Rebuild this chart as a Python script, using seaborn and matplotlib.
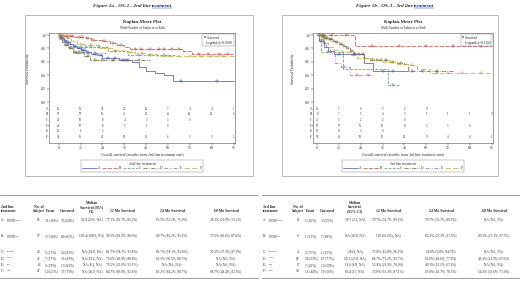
import numpy as np
import pandas as pd
import seaborn as sns
import matplotlib
matplotlib.use("Agg")
import matplotlib.pyplot as plt
from matplotlib.lines import Line2D
from matplotlib.patches import Rectangle

# ---------------- data ----------------
groups = ["A", "B", "C", "D", "E", "F"]
at_risk_times = [0, 12, 24, 36, 48, 60, 72, 84, 96]

# Figure 1a - 2nd line: step curves (time, survival) and censor times
os2_times = {
    "A": [0, 1, 2, 3, 4, 6, 8, 10, 12, 15, 18, 21, 24, 28, 33, 40, 44, 48, 53, 58, 63, 96],
    "B": [0, 3, 6, 9, 12, 15, 18, 21, 24, 28, 32, 36, 39, 68, 73, 96],
    "C": [0, 1, 3, 5, 27, 38, 64],
    "D": [0, 1, 2, 3, 5, 8, 14, 17, 50],
    "E": [0, 1, 3, 8, 26],
    "F": [0, 2, 4, 7, 10, 14, 22, 30, 36, 42, 48, 54, 96],
}
os2_surv = {
    "A": [1, .98, .95, .92, .89, .86, .83, .80, .77, .75, .72, .70, .66, .65, .63, .60, .52, .47, .44, .40, .32, .32],
    "B": [1, .99, .98, .97, .965, .95, .93, .92, .905, .88, .85, .82, .79, .76, .71, .71],
    "C": [1, .96, .89, .82, .76, .70, .70],
    "D": [1, .95, .90, .85, .80, .75, .69, .625, .625],
    "E": [1, .94, .87, .735, .735],
    "F": [1, .98, .95, .91, .87, .85, .81, .78, .75, .73, .71, .69, .69],
}
os2_cens = {
    "A": [1, 2, 3, 4, 5, 9, 11, 13, 14, 16, 20, 23, 27, 31, 35, 37, 38, 67, 87],
    "B": [1, 2, 4, 5, 7, 8, 11, 13, 16, 19, 25, 30, 34, 42, 45, 50, 55, 58, 62, 66, 77, 82, 88, 93],
    "C": [2, 4, 7, 9, 12, 15, 18, 22, 31, 44, 50, 58],
    "D": [1, 4, 6, 9, 11, 16, 20, 24, 30, 36, 44],
    "E": [2, 5, 10, 14, 20],
    "F": [1, 3, 5, 12, 18, 26, 40, 46, 60, 66, 72, 78, 84, 90],
}
os2_risk = {
    "A": [86, 55, 31, 22, 12, 7, 4, 4, 1],
    "B": [97, 78, 56, 41, 32, 26, 14, 12, 6],
    "C": [29, 19, 8, 4, 3, 3, 0],
    "D": [42, 17, 8, 5, 1, 0],
    "E": [16, 6, 2],
    "F": [47, 36, 23, 19, 11, 6, 3, 3, 1],
}

# Figure 1b - 3rd line
os3_times = {
    "A": [0, 1, 4, 6, 9, 26, 31, 50],
    "B": [0, 21, 96],
    "C": [0, 2, 14, 39, 45],
    "D": [0, 2, 4, 6, 8, 10, 12, 14, 16, 18, 20, 26, 29, 40, 44, 48, 50, 75],
    "E": [0, 1, 3, 5, 7, 10, 13, 18, 31],
    "F": [0, 2, 4, 6, 9, 12, 18, 22, 30, 36, 44, 50, 55, 62, 96],
}
os3_surv = {
    "A": [1, .91, .82, .76, .71, .59, .47, .47],
    "B": [1, .833, .833],
    "C": [1, .75, .50, .25, .25],
    "D": [1, .98, .96, .94, .91, .89, .87, .84, .80, .76, .72, .66, .63, .60, .58, .57, .47, .47],
    "E": [1, .94, .88, .82, .71, .59, .53, .40, .40],
    "F": [1, .94, .88, .82, .77, .74, .70, .66, .63, .60, .57, .55, .50, .44, .44],
}
os3_cens = {
    "A": [2, 12, 20, 36, 42],
    "B": [3, 8, 16, 30, 45, 60, 75, 90],
    "C": [6, 42],
    "D": [1, 1.5, 2.5, 3, 3.5, 5, 5.5, 7, 7.5, 9, 11, 13, 15, 17, 19, 21, 23, 25, 31, 33, 35, 38, 42, 46, 52, 58, 66],
    "E": [4, 15, 22, 28],
    "F": [3, 14, 26, 40, 52, 66, 72, 80, 90],
}
os3_risk = {
    "A": [11, 7, 6, 3, 2, 0],
    "B": [8, 7, 5, 4, 3, 1, 1, 1, 0],
    "C": [4, 3, 2, 2, 0],
    "D": [87, 57, 35, 16, 8, 3, 3, 0],
    "E": [17, 8, 3, 0],
    "F": [34, 26, 19, 15, 12, 9, 4, 4, 1],
}

# tables
tab_cols = ["No. of\nSubject", "Event", "Censored", "Median\nSurvival (95%\nCI)",
            "12 Mo Survival", "24 Mo Survival", "60 Mo Survival"]
tab2_labels = [("A: ", "platinum\nsalvage without\ntransplant"), ("B: ", "platinum\nsalvage with\ntransplant"),
               ("C: ", "R-lenalid"), ("D: ", "CAR-T"), ("E: ", "Pola"), ("F: ", "Other")]
tab2_rows = [
    ["86", "31 (36%)", "55 (64%)", "50.4 (29.6, NA)", "77.1% (65.7%, 85.2%)", "65.5% (52.2%, 75.9%)", "38.1% (20.9%, 55.2%)"],
    ["97", "17 (18%)", "80 (82%)", "110.4 (108.9, NA)", "96.5% (89.5%, 98.9%)", "90.7% (81.2%, 95.5%)", "79.5% (66.6%, 87.6%)"],
    ["29", "5 (17%)", "24 (83%)", "NA (28.8, NA)", "81.7% (58.1%, 92.8%)", "81.7% (58.1%, 92.8%)", "70.1% (37.3%, 87.9%)"],
    ["42", "7 (17%)", "35 (83%)", "NA (10.2, NA)", "75.0% (49.9%, 88.8%)", "62.5% (36.5%, 80.7%)", "NA (NA, NA)"],
    ["16", "3 (19%)", "13 (81%)", "NA (8.2, NA)", "73.5% (35.9%, 91.1%)", "NA (NA, NA)", "NA (NA, NA)"],
    ["47", "10 (21%)", "37 (79%)", "NA (40.9, NA)", "84.7% (69.0%, 92.9%)", "81.2% (64.2%, 90.7%)", "68.7% (48.4%, 82.5%)"],
]
tab3_cols = ["No. of\nSubject", "Event", "Censored", "Median\nSurvival\n(95% CI)",
             "12 Mo Survival", "24 Mo Survival", "60 Mo Survival"]
tab3_rows = [
    ["11", "5 (45%)", "6 (55%)", "30.7 (3.3, NA)", "70.7% (33.7%, 89.5%)", "70.7% (33.7%, 89.5%)", "NA (NA, NA)"],
    ["8", "1 (13%)", "7 (88%)", "NA (20.8, NA)", "100.0% (NA, NA)", "83.3% (27.3%, 97.5%)", "83.3% (27.3%, 97.5%)"],
    ["4", "3 (75%)", "1 (25%)", "28 (8, NA)", "75.0% (12.8%, 96.1%)", "50.0% (5.8%, 84.5%)", "NA (NA, NA)"],
    ["87", "20 (23%)", "67 (77%)", "50.3 (23.8, NA)", "86.7% (75.2%, 92.7%)", "65.8% (49.6%, 77.9%)", "46.3% (21.9%, 67.6%)"],
    ["17", "7 (41%)", "10 (59%)", "16.6 (6.8, NA)", "53.4% (25.9%, 76.0%)", "40.1% (12.1%, 67.4%)", "NA (NA, NA)"],
    ["34", "15 (44%)", "19 (56%)", "60.4 (17, NA)", "73.8% (57.3%, 87.1%)", "63.8% (43.7%, 78.3%)", "54.3% (33.6%, 71.0%)"],
]

colors = {"A": "#3c55b4", "B": "#c0463a", "C": "#4a9a5a", "D": "#6e5c22", "E": "#a054d8", "F": "#c0a83a"}
styles = {"A": "-", "B": (0, (6, 2)), "C": (0, (4, 2)), "D": (0, (6, 2, 1, 2)),
          "E": (0, (5, 2, 1, 2, 1, 2)), "F": (0, (8, 3))}

# ---------------- figure ----------------
sns.set_style("white")
plt.rcParams["font.family"] = ["Liberation Serif", "DejaVu Serif"]
W, H = 520, 281
fig = plt.figure(figsize=(W / 100, H / 100), dpi=100)


def fx(x):
    return x / W


def fy(y):
    return 1 - y / H


def rect(x0, y0, x1, y1):
    return [fx(x0), fy(y1), fx(x1) - fx(x0), fy(y0) - fy(y1)]


def km_panel(box, frame, xlim, times, surv, cens, risk, pval, xlabel, legtitle, title, title_x):
    bx0, by0, bx1, by1 = box
    fig.patches.append(Rectangle((fx(bx0), fy(by1)), fx(bx1) - fx(bx0), fy(by0) - fy(by1),
                                 transform=fig.transFigure, fill=False, lw=0.6, ec="#b0b0b0"))
    # figure title with underlined last word
    fig.text(fx(title_x), fy(6), title[0], ha="right", va="center", fontsize=3.7,
             fontweight="bold", style="italic")
    t2 = fig.text(fx(title_x), fy(6), title[1], ha="left", va="center", fontsize=3.7,
                  fontweight="bold", style="italic", color="#0b2a8a")
    fig.canvas.draw()
    bb = t2.get_window_extent()
    fig.add_artist(Line2D([bb.x0 / W, bb.x1 / W], [bb.y0 / H, bb.y0 / H], lw=0.3,
                          color="#0b2a8a", transform=fig.transFigure))
    cx = (frame[0] + frame[2]) / 2
    fig.text(fx(cx), fy(22), "Kaplan-Meier Plot", ha="center", va="center", fontsize=3.4, fontweight="bold")
    fig.text(fx(cx), fy(28), "With Number of Subjects at Risk", ha="center", va="center", fontsize=2.4)

    ax = fig.add_axes(rect(*frame))
    for g in groups:
        df = pd.DataFrame({"t": times[g], "s": surv[g]})
        sns.lineplot(data=df, x="t", y="s", ax=ax, color=colors[g], linestyle=styles[g],
                     drawstyle="steps-post", lw=0.5, estimator=None, sort=False)
        ct = np.array([c for c in cens[g] if c <= times[g][-1]])
        idx = np.searchsorted(times[g], ct, side="right") - 1
        cs = np.array(surv[g])[idx]
        sns.scatterplot(x=ct, y=cs, ax=ax, marker="+", color=colors[g], s=5, linewidth=0.35)
        row = groups.index(g)
        ry = -0.10 - 0.084 * row
        for tt, n in zip(at_risk_times, risk[g]):
            ax.text(tt, ry, str(n), ha="center", va="center", fontsize=2.2)
        ax.text(xlim[0], ry, g + " ", ha="right", va="center", fontsize=2.6, clip_on=False)
    ax.set_xlim(*xlim)
    ax.set_ylim(-0.61, 1.03)
    ax.set_yticks([0, 0.2, 0.4, 0.6, 0.8, 1.0])
    ax.set_yticklabels(["0.0", "0.2", "0.4", "0.6", "0.8", "1.0"])
    ax.set_xticks(at_risk_times)
    ax.tick_params(labelsize=2.7, length=1.2, width=0.35, pad=1, left=True, bottom=True)
    ax.set_xlabel(xlabel, fontsize=2.7, labelpad=1.5)
    ax.set_ylabel("Survival Probability", fontsize=2.7, labelpad=1.5)
    ax.yaxis.set_label_coords(-0.1, 0.68)
    for sp in ax.spines.values():
        sp.set_linewidth(0.4)
        sp.set_color("#555555")
    # censored / logrank box
    h = [Line2D([], [], marker="+", ls="none", color="black", ms=1.5, mew=0.3),
         Line2D([], [], ls="none")]
    lg = ax.legend(h, ["Censored", pval], loc="upper right", fontsize=2.5, frameon=True,
                   handlelength=0.6, handletextpad=0.2, borderpad=0.35, borderaxespad=0.4,
                   labelspacing=0.3)
    lg.get_frame().set_linewidth(0.3)
    lg.get_frame().set_edgecolor("#555555")
    lg.get_frame().set_boxstyle("square", pad=0)
    # group legend under the plot
    hs = [Line2D([], [], color=colors[g], linestyle=styles[g], lw=0.5) for g in groups]
    leg = fig.legend(hs, groups, loc="center", bbox_to_anchor=(fx(cx), fy(166)), ncol=6,
                     fontsize=2.5, title=legtitle, title_fontsize=2.6, frameon=True,
                     handlelength=4.5, handletextpad=0.3, columnspacing=0.4, borderpad=0.35,
                     labelspacing=0.2)
    leg.get_frame().set_linewidth(0.3)
    leg.get_frame().set_edgecolor("#555555")
    leg.get_frame().set_boxstyle("square", pad=0)
    return ax


km_panel((25, 15, 253, 176), (49, 33, 235, 143), (-5.3, 96.8), os2_times, os2_surv, os2_cens, os2_risk,
         "Logrank p=0.0018", "Overall survival (months from 2nd line treatment start)", "2nd line treatment",
         ("Figure 1a - OS-2 - 2nd line ", "treatment"), 152)
km_panel((282, 15, 498, 176), (313, 33, 493, 143), (-2.3, 96.8), os3_times, os3_surv, os3_cens, os3_risk,
         "Logrank p=0.1160", "Overall survival (months from 3rd line treatment start)", "3rd line treatment",
         ("Figure 1b - OS-3 - 3rd line ", "treatment"), 414)


def table(x0, x1, col_x, head, cols, labels, rows):
    fs = 2.4
    fh = 2.7
    fig.add_artist(Line2D([fx(x0), fx(x1)], [fy(195), fy(195)], lw=0.5, color="#777777",
                          transform=fig.transFigure))
    fig.add_artist(Line2D([fx(x0), fx(x1)], [fy(278), fy(278)], lw=0.5, color="#777777",
                          transform=fig.transFigure))
    fig.text(fx(x0 + 1), fy(213), head, ha="left", va="bottom", fontsize=fh, fontweight="bold",
             linespacing=1.05)
    for cx, c in zip(col_x, cols):
        fig.text(fx(cx), fy(213), c, ha="center", va="bottom", fontsize=fh, fontweight="bold",
                 linespacing=1.05, multialignment="center")
    row_y = [220, 236, 252, 258.5, 265, 271.5]
    for (lab, sub), vals, ry in zip(labels, rows, row_y):
        fig.text(fx(x0 + 1), fy(ry), lab, ha="left", va="center", fontsize=fs)
        fig.text(fx(x0 + 7), fy(ry - 1.3), sub, ha="left", va="top", fontsize=1.5, linespacing=1.0)
        for cx, v in zip(col_x, vals):
            fig.text(fx(cx), fy(ry), v, ha="center", va="center", fontsize=fs)


table(0, 258, [39, 51, 67, 92, 122, 172, 226], "2nd line\ntreatment", tab_cols, tab2_labels, tab2_rows)
table(262, 520, [298, 311, 327, 355, 388, 441, 494], "3rd line\ntreatment", tab3_cols, tab2_labels, tab3_rows)

fig.savefig("out.png", dpi=100)
